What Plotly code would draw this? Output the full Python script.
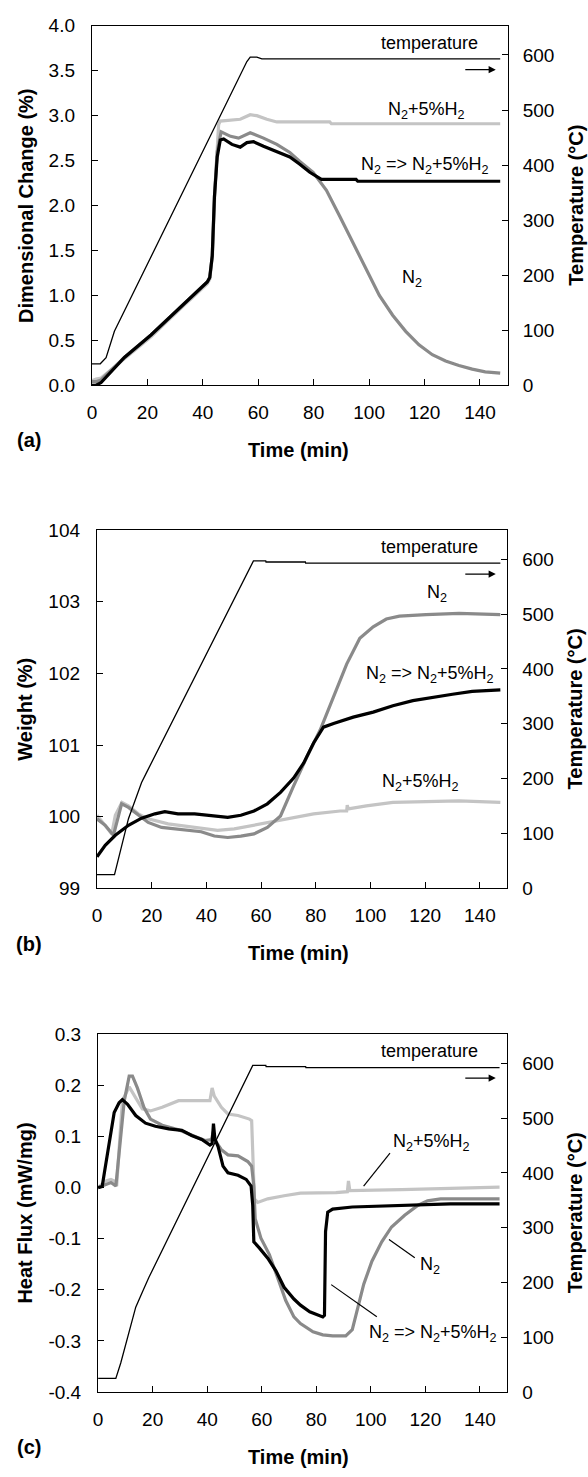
import plotly.graph_objects as go

W, H = 588, 1477
FONT = "Liberation Sans, Arial, sans-serif"

# ---------------- data ----------------
# Panel (a): dimensional change (%) and temperature (degC)
ta_temp = [0, 3.0, 5.1, 8.1, 55.9, 57.1, 59.5, 61.3, 147.3]
temp_a = [39, 39, 50, 98, 588, 596, 596, 593, 593]

ta_n2 = [0, 1.5, 3.3, 11.7, 21.3, 30.8, 41.6, 42.5, 43.4, 44.2, 45.2, 46.6, 50.0, 52.9, 57.1, 61.9,
         66.7, 71.4, 75.0, 79.8, 84.6, 89.4, 94.1, 98.9, 103.7, 108.5, 113.2, 118.0, 122.8, 127.6,
         132.4, 137.2, 141.9, 147.3]
dc_n2 = [0.04, 0.04, 0.06, 0.31, 0.56, 0.84, 1.15, 1.20, 1.44, 2.10, 2.60, 2.82, 2.77, 2.75, 2.81, 2.75,
         2.68, 2.59, 2.49, 2.37, 2.17, 1.88, 1.59, 1.28, 1.00, 0.78, 0.60, 0.45, 0.34, 0.27,
         0.22, 0.18, 0.15, 0.135]

ta_sw = [0, 1.5, 3.3, 11.7, 21.3, 30.8, 41.6, 42.5, 43.4, 44.2, 45.2, 46.3, 47.5, 50.5, 53.5, 55.9,
         58.3, 61.9, 66.7, 71.4, 75.0, 78.6, 82.8, 95.3, 95.9, 147.3]
dc_sw = [0.0, 0.0, 0.03, 0.31, 0.56, 0.84, 1.15, 1.20, 1.44, 2.10, 2.54, 2.73, 2.74, 2.68, 2.65, 2.70,
         2.71, 2.66, 2.60, 2.54, 2.46, 2.37, 2.29, 2.29, 2.27, 2.27]

ta_h2 = [0, 1.5, 3.3, 11.7, 21.3, 30.8, 41.6, 42.5, 43.5, 44.4, 45.2, 45.7, 46.3, 51.1, 53.5, 57.1,
         59.5, 63.1, 66.7, 75.0, 85.8, 86.4, 147.3]
dc_h2 = [0.05, 0.07, 0.08, 0.29, 0.54, 0.82, 1.13, 1.18, 1.45, 2.20, 2.72, 2.90, 2.94, 2.95, 2.96, 3.01,
         3.00, 2.96, 2.93, 2.93, 2.93, 2.91, 2.91]

# Panel (b): weight (%) and temperature (degC)
tb_temp = [0, 6.4, 11.5, 16.3, 18.1, 57.2, 61.7, 61.8, 76.2, 76.3, 147.5]
temp_b = [25, 25, 127, 193, 211, 597, 597, 595, 595, 593, 593]

tb_n2 = [0, 3.0, 6.0, 9.0, 11.5, 15.1, 18.7, 23.6, 30.8, 38.1, 42.9, 47.8, 52.6, 57.4, 62.3,
         67.1, 71.9, 76.8, 81.6, 86.5, 91.3, 96.1, 101.0, 105.8, 110.6, 120.3, 132.4, 147.5]
w_n2 = [99.97, 99.88, 99.74, 100.18, 100.13, 100.02, 99.92, 99.85, 99.82, 99.79, 99.73, 99.71, 99.73, 99.76, 99.85,
        100.01, 100.43, 100.84, 101.21, 101.67, 102.13, 102.49, 102.65, 102.76, 102.80, 102.82, 102.84, 102.82]

tb_sw = [0, 3.0, 6.7, 11.5, 16.3, 21.2, 24.8, 29.6, 35.7, 41.7, 47.8, 52.6, 57.4, 62.3, 67.1,
         71.9, 75.6, 79.2, 82.8, 86.5, 93.7, 101.0, 108.2, 115.5, 122.7, 130.0, 137.2, 147.5]
w_sw = [99.44, 99.60, 99.74, 99.88, 99.98, 100.04, 100.07, 100.04, 100.04, 100.01, 99.99, 100.02, 100.08, 100.18, 100.34,
        100.54, 100.75, 101.03, 101.25, 101.30, 101.39, 101.46, 101.55, 101.62, 101.67, 101.71, 101.75, 101.77]

tb_h2 = [0, 3.0, 5.4, 6.7, 9.1, 11.5, 15.1, 18.7, 26.0, 35.7, 44.1, 50.2, 57.4, 64.7, 71.9,
         79.2, 88.9, 91.3, 91.5, 91.9, 98.5, 108.2, 120.3, 132.4, 147.5]
w_h2 = [100.02, 99.88, 99.76, 100.02, 100.20, 100.15, 100.04, 99.97, 99.90, 99.85, 99.81, 99.83, 99.88, 99.93, 99.98,
        100.04, 100.08, 100.08, 100.16, 100.11, 100.15, 100.20, 100.21, 100.22, 100.20]

# Panel (c): heat flux (mW/mg) and temperature (degC)
tc_temp = [0, 6.5, 8.3, 10.8, 13.8, 16.2, 18.6, 56.7, 61.5, 61.6, 76.1, 76.2, 147.2]
temp_c = [25, 25, 53, 101, 155, 182, 209, 596, 596, 594, 594, 592, 592]

tc_n2 = [0, 2.9, 4.7, 6.5, 7.7, 9.6, 11.4, 12.6, 14.4, 16.8, 19.2, 23.5, 29.5, 34.3, 39.2, 41.6,
         42.2, 42.8, 45.2, 47.6, 51.3, 54.9, 56.3, 57.1, 57.6, 59.7, 62.8, 65.8, 68.8, 71.8,
         74.2, 78.8, 82.4, 86.0, 90.8, 93.2, 95.0, 97.4, 100.4, 104.0, 107.6, 112.4, 117.2,
         120.8, 125.6, 135.2, 147.2]
hf_n2 = [0.0, 0.006, 0.010, 0.003, 0.067, 0.170, 0.218, 0.218, 0.195, 0.157, 0.134, 0.122, 0.113, 0.102, 0.092, 0.094,
         0.109, 0.093, 0.074, 0.064, 0.062, 0.051, 0.042, 0.003, -0.061, -0.099, -0.131, -0.176, -0.221, -0.253,
         -0.266, -0.282, -0.288, -0.290, -0.290, -0.278, -0.240, -0.189, -0.144, -0.106, -0.077, -0.054, -0.035,
         -0.026, -0.022, -0.022, -0.022]

tc_sw = [0, 1.5, 2.3, 4.1, 5.9, 7.7, 8.9, 10.8, 13.8, 17.4, 21.0, 25.9, 30.7, 34.3, 38.0, 41.0,
         41.8, 42.3, 42.8, 44.0, 45.8, 47.6, 51.3, 54.3, 56.1, 56.7, 57.1, 59.1, 62.2, 65.2,
         68.2, 71.8, 74.2, 77.6, 80.6, 82.4, 83.0, 83.4, 84.2, 86.0, 93.2, 105.2, 117.2, 129.2, 147.2]
hf_sw = [0.0, 0.002, 0.029, 0.093, 0.147, 0.166, 0.172, 0.163, 0.141, 0.126, 0.120, 0.115, 0.112, 0.102, 0.094, 0.083,
         0.086, 0.125, 0.096, 0.080, 0.042, 0.029, 0.024, 0.016, 0.003, -0.035, -0.106, -0.118, -0.138, -0.163,
         -0.195, -0.218, -0.230, -0.243, -0.250, -0.253, -0.250, -0.086, -0.048, -0.042, -0.038, -0.036, -0.035, -0.032, -0.032]

tc_h2 = [0, 2.9, 4.7, 5.9, 6.8, 7.7, 8.9, 11.4, 13.8, 16.2, 19.2, 23.5, 29.5, 35.5, 41.0, 41.8,
         42.6, 45.2, 47.6, 51.3, 55.5, 56.3, 56.8, 57.3, 58.5, 62.2, 68.2, 74.2, 87.2, 91.4,
         91.8, 92.3, 111.2, 129.2, 147.2]
hf_h2 = [0.0, 0.013, 0.016, 0.013, 0.003, 0.086, 0.170, 0.197, 0.176, 0.154, 0.150, 0.157, 0.170, 0.170, 0.170, 0.195,
         0.179, 0.157, 0.144, 0.141, 0.134, 0.131, 0.042, -0.022, -0.029, -0.022, -0.016, -0.011, -0.010, -0.008,
         0.013, -0.006, -0.004, -0.002, 0.001]

x_ticks = [0, 20, 40, 60, 80, 100, 120, 140]
ya_ticks = [0.0, 0.5, 1.0, 1.5, 2.0, 2.5, 3.0, 3.5, 4.0]
ya_labels = ["0.0", "0.5", "1.0", "1.5", "2.0", "2.5", "3.0", "3.5", "4.0"]
yb_ticks = [99, 100, 101, 102, 103, 104]
yb_labels = ["99", "100", "101", "102", "103", "104"]
yc_ticks = [-0.4, -0.3, -0.2, -0.1, 0.0, 0.1, 0.2, 0.3]
yc_labels = ["-0.4", "-0.3", "-0.2", "-0.1", "0.0", "0.1", "0.2", "0.3"]
temp_ticks = [0, 100, 200, 300, 400, 500, 600]

# ---------------- styles ----------------
C_BLACK = "#000000"
C_N2 = "#8a8a8a"
C_H2 = "#c4c4c4"
LW = 3.2


def px(x):
    return x / W


def py(y):
    return 1 - y / H


fig = go.Figure()

panels = [
    dict(x="x", y="y", y2="y2", t=(ta_temp, temp_a),
         series=[(ta_h2, dc_h2, C_H2), (ta_n2, dc_n2, C_N2), (ta_sw, dc_sw, C_BLACK)]),
    dict(x="x2", y="y3", y2="y4", t=(tb_temp, temp_b),
         series=[(tb_h2, w_h2, C_H2), (tb_n2, w_n2, C_N2), (tb_sw, w_sw, C_BLACK)]),
    dict(x="x3", y="y5", y2="y6", t=(tc_temp, temp_c),
         series=[(tc_h2, hf_h2, C_H2), (tc_n2, hf_n2, C_N2), (tc_sw, hf_sw, C_BLACK)]),
]

for p in panels:
    for xs, ys, col in p["series"]:
        fig.add_trace(go.Scatter(x=xs, y=ys, mode="lines", xaxis=p["x"], yaxis=p["y"],
                                 line=dict(color=col, width=LW), showlegend=False, hoverinfo="skip"))
    fig.add_trace(go.Scatter(x=p["t"][0], y=p["t"][1], mode="lines", xaxis=p["x"], yaxis=p["y2"],
                             line=dict(color="black", width=1.3), showlegend=False, hoverinfo="skip"))

tickfont = dict(family=FONT, size=19, color="black")
common = dict(showline=True, linecolor="black", linewidth=1.3, ticks="inside", ticklen=6,
              tickwidth=1.2, tickcolor="black", showgrid=False, zeroline=False, tickfont=tickfont)

# pixel geometry of the three plot boxes: (left, right, top, bottom)
boxes = [(87.7, 507.0, 16.0, 380.7), (92.8, 506.5, 527.7, 891.0), (93.9, 506.5, 1039.0, 1402.0)]
lranges = [[0, 4], [99, 104], [-0.4, 0.3]]
lticks = [(ya_ticks, ya_labels), (yb_ticks, yb_labels), (yc_ticks, yc_labels)]
TMAX = 653

layout = {}
for i, (l, r, t, b) in enumerate(boxes):
    xn = "xaxis" if i == 0 else f"xaxis{i + 1}"
    yl = "yaxis" if i == 0 else f"yaxis{2 * i + 1}"
    yr = f"yaxis{2 * i + 2}"
    xref = "x" if i == 0 else f"x{i + 1}"
    ylref = "y" if i == 0 else f"y{2 * i + 1}"
    layout[xn] = dict(domain=[px(l), px(r)], anchor=ylref, range=[0, 150], tickvals=x_ticks,
                      mirror=True, ticklabelstandoff=10, **common)
    layout[yl] = dict(domain=[py(b), py(t)], anchor=xref, range=lranges[i], tickvals=lticks[i][0],
                      ticktext=lticks[i][1], ticklabelstandoff=12, **common)
    layout[yr] = dict(overlaying=ylref, side="right", anchor=xref, range=[0, TMAX], tickvals=temp_ticks,
                      ticklabelstandoff=10, **common)

fig.update_layout(width=W, height=H, margin=dict(l=0, r=0, t=0, b=0),
                  plot_bgcolor="white", paper_bgcolor="white", **layout)

ann = []
bold = dict(family=FONT, size=20, color="black")
lab = dict(family=FONT, size=18, color="black")


def text(x, y, s, font, angle=0):
    ann.append(dict(x=px(x), y=py(y), xref="paper", yref="paper", text=s, showarrow=False,
                    font=font, textangle=angle, xanchor="center", yanchor="middle"))


ytitles = ["<b>Dimensional Change (%)</b>", "<b>Weight (%)</b>", "<b>Heat Flux (mW/mg)</b>"]
for i, (l, r, t, b) in enumerate(boxes):
    text(20.6, (t + b) / 2, ytitles[i], bold, -90)
    text(575, (t + b) / 2, "<b>Temperature (°C)</b>", bold, -90)
    text(296, b + 66, "<b>Time (min)</b>", bold)
    text(24, b + 56, "<b>(" + "abc"[i] + ")</b>", bold)
    # temperature label + arrow
    text(428, t + 17.5, "temperature", lab)
    ann.append(dict(x=px(495), y=py(t + 44.5), xref="paper", yref="paper", ax=-32, ay=0,
                    axref="pixel", ayref="pixel", showarrow=True, arrowhead=2, arrowsize=1.1,
                    arrowwidth=1.3, arrowcolor="black", text=""))

H2L = "N<sub>2</sub>+5%H<sub>2</sub>"
SWL = "N<sub>2</sub> => N<sub>2</sub>+5%H<sub>2</sub>"
N2L = "N<sub>2</sub>"
# panel a
text(425.3, 102, H2L, lab)
text(423.3, 157.5, SWL, lab)
text(410.3, 272.7, N2L, lab)
# panel b
text(435.3, 592, N2L, lab)
text(428.7, 673.7, SWL, lab)
text(418.7, 783.7, H2L, lab)
# panel c
text(430, 1149, H2L, lab)
text(428.3, 1274, N2L, lab)
text(431.7, 1342.3, SWL, lab)

shapes = []
for (x0, y0, x1, y1) in [(388.3, 1159.7, 361.7, 1193), (413.3, 1265.7, 387.3, 1247.3), (375, 1325.7, 329, 1293)]:
    shapes.append(dict(type="line", xref="paper", yref="paper", x0=px(x0), y0=py(y0), x1=px(x1), y1=py(y1),
                       line=dict(color="black", width=1.2)))

fig.update_layout(annotations=ann, shapes=shapes)
fig.write_html("out.html", config={"displayModeBar": False},
               post_script="document.body.style.margin='0';document.body.style.padding='0';")
